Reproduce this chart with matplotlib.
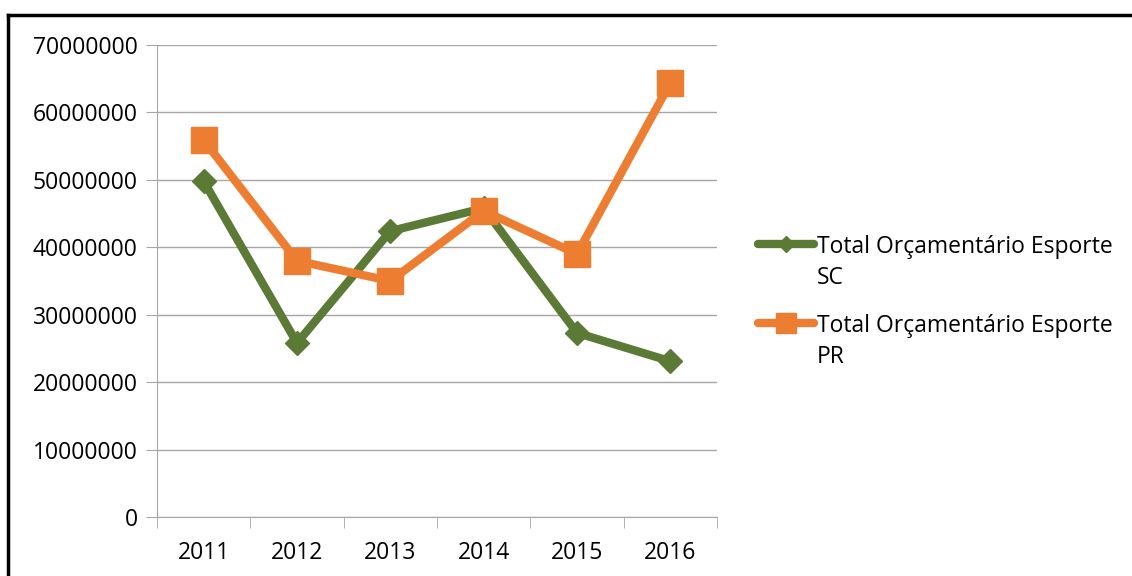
import matplotlib.pyplot as plt
from matplotlib.lines import Line2D

years = ['2011', '2012', '2013', '2014', '2015', '2016']
sc_values = [49800000, 25800000, 42400000, 45800000, 27300000, 23100000]
pr_values = [55900000, 38000000, 35000000, 45400000, 39000000, 64400000]
labels = [('Total Orçamentário Esporte', 'SC'), ('Total Orçamentário Esporte', 'PR')]

green = '#5a7a35'
orange = '#ed7d31'
grid = '#a6a6a6'

plt.rcParams['font.family'] = ['Open Sans', 'DejaVu Sans']

W, H = 1132, 576
fig = plt.figure(figsize=(W / 100, H / 100), dpi=100)
ax = fig.add_axes([157 / W, 1 - 517 / H, (717 - 157) / W, (517 - 45) / H])

x = range(len(years))
ax.plot(x, sc_values, color=green, lw=6, marker='D', ms=12, zorder=3)
ax.plot(x, pr_values, color=orange, lw=6, marker='s', ms=19, zorder=3)

ax.set_xlim(-0.5, len(years) - 0.5)
ax.set_ylim(0, 70000000)
ax.set_yticks(range(0, 70000001, 10000000))
ax.set_yticklabels([str(v) for v in range(0, 70000001, 10000000)])
ax.set_xticks(list(x))
ax.set_xticklabels(years)
ax.set_xticks([i - 0.5 for i in range(len(years) + 1)], minor=True)
ax.tick_params(axis='x', which='major', length=0, pad=17, labelsize=16.5)
ax.tick_params(axis='x', which='minor', length=8, color=grid)
ax.tick_params(axis='y', length=8, color=grid, pad=6, labelsize=16.5)
ax.grid(axis='y', color=grid, lw=1)
ax.set_axisbelow(True)
for s in ['top', 'right']:
    ax.spines[s].set_visible(False)
ax.spines['left'].set_color(grid)
ax.spines['bottom'].set_color(grid)

# legend drawn by hand so the handle sits on the first text line, like Excel
styles = [(green, 'D', 8), (orange, 's', 14)]
for i, ((l1, l2), (c, m, ms)) in enumerate(zip(labels, styles)):
    yy = 1 - (244 + i * 79) / H
    fig.add_artist(Line2D([758 / W, 814 / W], [yy, yy], color=c, lw=6,
                          solid_capstyle='round'))
    fig.add_artist(Line2D([786 / W], [yy], color=c, marker=m, ms=ms, lw=0))
    fig.text(817 / W, yy, l1, fontsize=16.5, va='center_baseline')
    fig.text(817 / W, yy - 31 / H, l2, fontsize=16.5, va='center_baseline')

# outer frame: top and left edges only
fig.add_artist(Line2D([8 / W, 1], [1 - 15 / H, 1 - 15 / H], color='black', lw=2.5))
fig.add_artist(Line2D([8 / W, 8 / W], [0, 1 - 15 / H], color='black', lw=2.5))

plt.savefig('out.png', dpi=100)
